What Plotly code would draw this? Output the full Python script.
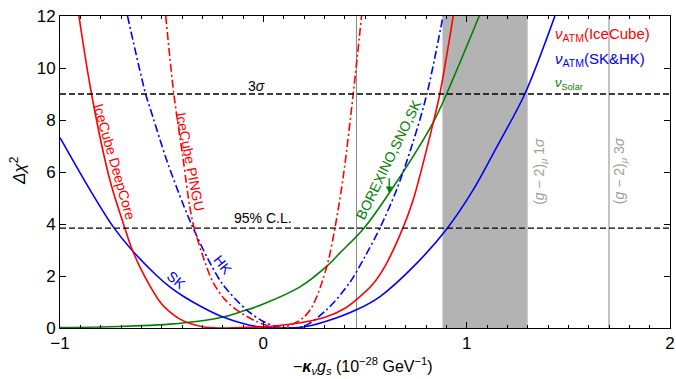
import plotly.graph_objects as go

# ---------------- data ----------------
sk_x = [-1.0, -0.853, -0.739, -0.648, -0.525, -0.46, -0.394, -0.30, -0.198, -0.10, -0.033, 0.08,
        0.196, 0.294, 0.458, 0.574, 0.737, 0.901, 1.032, 1.147, 1.286, 1.434]
sk_y = [7.32, 5.32, 3.90, 3.01, 2.02, 1.58, 1.22, 0.80, 0.42, 0.17, 0.06, 0.0,
        0.04, 0.22, 0.70, 1.21, 2.35, 3.80, 5.31, 6.95, 9.0, 12.0]

hk_x = [-0.668, -0.579, -0.559, -0.476, -0.394, -0.345, -0.27, -0.198, -0.083, 0.0, 0.081,
        0.196, 0.311, 0.425, 0.50, 0.573, 0.655, 0.73, 0.803, 0.884]
hk_y = [12.0, 9.0, 8.51, 6.47, 4.75, 3.84, 2.62, 1.66, 0.70, 0.25, 0.03,
        0.06, 0.70, 1.75, 2.75, 3.84, 5.31, 7.0, 8.96, 12.0]

pingu_x = [-0.48, -0.44, -0.394, -0.362, -0.34, -0.29, -0.247, -0.19, -0.132, -0.033, 0.081,
           0.163, 0.20, 0.235, 0.265, 0.29, 0.32, 0.352, 0.393, 0.442, 0.483]
pingu_y = [12.0, 9.0, 6.47, 4.67, 3.84, 2.6, 1.75, 1.1, 0.70, 0.25, 0.0,
           0.22, 0.42, 0.75, 1.25, 1.8, 2.6, 3.84, 5.82, 9.0, 12.0]

deepcore_x = [-0.907, -0.845, -0.755, -0.681, -0.645, -0.583, -0.50, -0.46, -0.41, -0.36, -0.30, -0.22,
              -0.05, 0.032, 0.196, 0.30, 0.40, 0.458, 0.54, 0.60, 0.686, 0.737, 0.835, 0.868, 0.934]
deepcore_y = [12.0, 9.0, 5.7, 3.84, 3.01, 1.98, 0.92, 0.62, 0.34, 0.17, 0.05, 0.0,
              0.03, 0.06, 0.22, 0.40, 0.75, 1.09, 1.70, 2.40, 3.84, 4.93, 7.88, 9.0, 12.0]

solar_x = [-1.0, -0.8, -0.6, -0.46, -0.31, -0.198, -0.10, 0.0, 0.18, 0.311, 0.376, 0.495,
           0.62, 0.835, 0.901, 1.062]
solar_y = [0.02, 0.04, 0.09, 0.15, 0.27, 0.42, 0.65, 0.92, 1.58, 2.37, 2.88, 3.84,
           5.2, 7.9, 9.0, 12.0]

cl_levels = [9.0, 3.84]          # 3 sigma, 95% C.L.
cl_labels = ["3<i>σ</i>", "95% C.L."]
gm2_band = [0.881, 1.30]         # (g-2)_mu 1 sigma band
gm2_lines = [0.458, 1.70]        # thin gray vertical lines
x_ticks = [-1, 0, 1, 2]
y_ticks = [0, 2, 4, 6, 8, 10, 12]

RED, BLUE, GREEN = "#ff0000", "#0000ff", "#008000"
FONT = "Liberation Sans, Arial, sans-serif"
DASHDOT = "8px,3px,2px,3px"

fig = go.Figure()

def add(x, y, color, dash="solid"):
    fig.add_trace(go.Scatter(x=x, y=y, mode="lines", line=dict(color=color, width=1.6, dash=dash,
                                                            shape="spline", smoothing=0.9),
                             showlegend=False, hoverinfo="skip", cliponaxis=True))

add(solar_x, solar_y, GREEN)
add(sk_x, sk_y, BLUE)
add(hk_x, hk_y, BLUE, DASHDOT)
add(deepcore_x, deepcore_y, RED)
add(pingu_x, pingu_y, RED, DASHDOT)

shapes = [dict(type="rect", xref="x", yref="y", x0=gm2_band[0], x1=gm2_band[1], y0=0, y1=12,
               fillcolor="#b3b3b3", line=dict(width=0), layer="below")]
for xv in gm2_lines:
    shapes.append(dict(type="line", xref="x", yref="y", x0=xv, x1=xv, y0=0, y1=12,
                       line=dict(color="#888888", width=1), layer="below"))
for yv in cl_levels:
    shapes.append(dict(type="line", xref="x", yref="y", x0=-1, x1=2, y0=yv, y1=yv,
                       line=dict(color="black", width=1.4, dash="6px,3px"), layer="above"))

ann = []
def txt(x, y, s, color="black", size=14, angle=0, xanchor="center", yanchor="middle", xref="x", yref="y"):
    ann.append(dict(x=x, y=y, xref=xref, yref=yref, text=s, showarrow=False, textangle=angle,
                    xanchor=xanchor, yanchor=yanchor, font=dict(family=FONT, size=size, color=color)))

txt(-0.033, 9.3, cl_labels[0])
txt(0.0, 4.25, cl_labels[1])
txt(-0.73, 6.40, "IceCube DeepCore", RED, 14, 74)
txt(-0.362, 6.41, "IceCube PINGU", RED, 14, 79)
txt(-0.427, 1.86, "SK", BLUE, 14, 40)
txt(-0.198, 2.43, "HK", BLUE, 14, 52)
txt(0.614, 6.47, "BOREXINO,SNO,SK", GREEN, 14, -64)
txt(1.36, 6.04, "(<i>g</i> − 2)<sub><i>μ</i></sub> 1<i>σ</i>", "#a0a0a0", 14, -90)
txt(1.755, 6.04, "(<i>g</i> − 2)<sub><i>μ</i></sub> 3<i>σ</i>", "#a0a0a0", 14, -90)
txt(1.425, 11.27, "<i>ν</i><sub>ATM</sub>(IceCube)", RED, 15, xanchor="left")
txt(1.425, 10.31, "<i>ν</i><sub>ATM</sub>(SK&amp;HK)", BLUE, 15, xanchor="left")
txt(1.425, 9.40, "<i>ν</i><sub>Solar</sub>", GREEN, 13, xanchor="left")
# axis titles
txt(0.497, -0.122, "−<b><i>κ</i></b><sub><i>ν</i></sub><i>g</i><sub><i>s</i></sub> (10<sup>−28</sup> GeV<sup>−1</sup>)",
    "black", 16, xref="paper", yref="paper")
txt(-0.069, 0.506, "<i>Δχ</i><sup>2</sup>", "black", 17, -90, xref="paper", yref="paper")

# arrow near the solar label
ann.append(dict(x=0.619, y=5.19, ax=0.619, ay=5.82, xref="x", yref="y", axref="x", ayref="y",
                text="", showarrow=True, arrowhead=2, arrowsize=1, arrowwidth=1.3, arrowcolor=GREEN))

fig.update_layout(
    width=676, height=379,
    margin=dict(l=60, r=6, t=16, b=51, autoexpand=False),
    plot_bgcolor="white", paper_bgcolor="white",
    shapes=shapes, annotations=ann,
    font=dict(family=FONT, size=17, color="black"),
)
fig.update_xaxes(range=[-1, 2], tickvals=x_ticks, ticks="inside", ticklen=6, tickcolor="black",
                 showline=True, linecolor="black", linewidth=1, mirror="allticks", automargin=False,
                 showgrid=False, zeroline=False, tickfont=dict(size=17),
                 minor=dict(dtick=0.1, ticks="inside", ticklen=3, tickcolor="black", showgrid=False))
fig.update_yaxes(range=[0, 12], tickvals=y_ticks, ticks="inside", ticklen=6, tickcolor="black",
                 showline=True, linecolor="black", linewidth=1, mirror="allticks", automargin=False,
                 showgrid=False, zeroline=False, tickfont=dict(size=17))

fig.write_html("out.html", config={"displayModeBar": False},
               post_script="document.body.style.margin='0';document.body.style.overflow='hidden';")
